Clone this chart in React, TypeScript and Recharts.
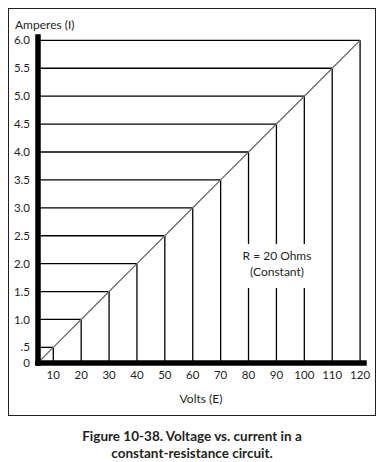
import {
  ComposedChart,
  Line,
  XAxis,
  YAxis,
  ReferenceLine,
} from "recharts";

// Ohm's law table, R = 20 ohms
const VOLTS = [10, 20, 30, 40, 50, 60, 70, 80, 90, 100, 110, 120];
const AMPERES = [0.5, 1.0, 1.5, 2.0, 2.5, 3.0, 3.5, 4.0, 4.5, 5.0, 5.5, 6.0];
const Y_TICK_LABELS = ["0", ".5", "1.0", "1.5", "2.0", "2.5", "3.0", "3.5", "4.0", "4.5", "5.0", "5.5", "6.0"];
const NOTE_LINES = ["R = 20 Ohms", "(Constant)"];

// the drawing's axes cross a little above the true origin
const X_MIN = 4.52;
const X_MAX = 121.4;
const Y_MIN = 0.22;
const Y_MAX = 6.06;

const INK = "#231f20";
const FONT = "Lato, 'Open Sans', sans-serif";

const lineData = [{ v: 0, i: 0 }, ...VOLTS.map((v, k) => ({ v, i: AMPERES[k] }))];
const yTicks = [Y_MIN, ...AMPERES];

export default function App() {
  const axisLine = { stroke: "#000", strokeWidth: 5.5, strokeLinecap: "square" as const };
  return (
    <div style={{ fontFamily: FONT, color: INK }}>
      <div
        style={{
          position: "absolute",
          left: 8,
          top: 8,
          width: 368,
          height: 408,
          boxSizing: "border-box",
          border: `1px solid ${INK}`,
        }}
      />
      <div style={{ position: "absolute", left: 15, top: 17, fontSize: 12 }}>Amperes (I)</div>
      <div style={{ position: "absolute", left: 0, top: 0 }}>
        <ComposedChart
          width={387}
          height={420}
          data={lineData}
          margin={{ top: 37, right: 23, bottom: 17, left: 0 }}
        >
          {AMPERES.map((a, k) => (
            <ReferenceLine
              key={`h${k}`}
              segment={[{ x: X_MIN, y: a }, { x: VOLTS[k], y: a }]}
              stroke="#000"
              strokeWidth={1.3}
            />
          ))}
          {VOLTS.map((v, k) => (
            <ReferenceLine
              key={`v${k}`}
              segment={[{ x: v, y: Y_MIN }, { x: v, y: AMPERES[k] }]}
              stroke="#000"
              strokeWidth={1.3}
            />
          ))}
          <Line
            dataKey="i"
            stroke="#6a6a6a"
            strokeWidth={1.3}
            dot={false}
            activeDot={false}
            isAnimationActive={false}
          />
          <XAxis
            dataKey="v"
            type="number"
            domain={[X_MIN, X_MAX]}
            allowDataOverflow
            ticks={VOLTS}
            interval={0}
            tickLine={false}
            tickSize={0}
            tickMargin={8}
            height={40}
            axisLine={axisLine}
            tick={{ fontSize: 11.5, fill: INK, fontFamily: FONT }}
            label={{ value: "Volts (E)", position: "insideBottom", offset: 0, fontSize: 12, fill: INK, fontFamily: FONT }}
          />
          <YAxis
            type="number"
            domain={[Y_MIN, Y_MAX]}
            allowDataOverflow
            ticks={yTicks}
            interval={0}
            tickLine={false}
            tickSize={0}
            tickMargin={8}
            width={38}
            axisLine={axisLine}
            tick={{ fontSize: 11.5, fill: INK, fontFamily: FONT }}
            tickFormatter={(val: number) => (val === Y_MIN ? Y_TICK_LABELS[0] : Y_TICK_LABELS[AMPERES.indexOf(val) + 1])}
          />
        </ComposedChart>
      </div>
      {/* annotation sits on a white patch that breaks the 80/90/100 V lines */}
      <div
        style={{
          position: "absolute",
          left: 242,
          top: 244,
          width: 70,
          height: 44,
          background: "#fff",
          textAlign: "center",
          whiteSpace: "nowrap",
          fontSize: 12,
          lineHeight: "16px",
          paddingTop: 4,
          boxSizing: "border-box",
        }}
      >
        {NOTE_LINES[0]}
        <br />
        {NOTE_LINES[1]}
      </div>
      <div
        style={{
          position: "absolute",
          left: 0,
          top: 428,
          width: 384,
          textAlign: "center",
          fontWeight: 700,
          fontSize: 13.5,
          lineHeight: "17px",
        }}
      >
        Figure 10-38. Voltage vs. current in a
        <br />
        constant-resistance circuit.
      </div>
    </div>
  );
}
